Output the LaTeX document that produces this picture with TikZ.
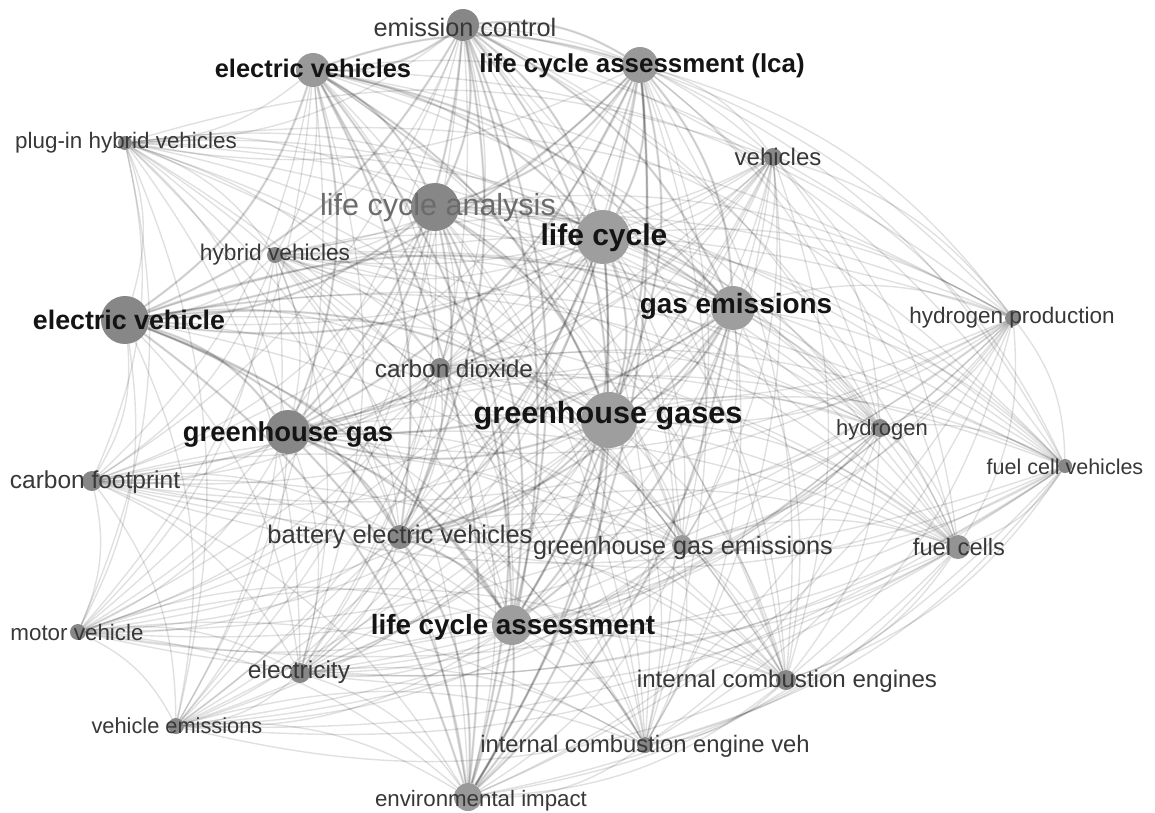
\documentclass[tikz,border=0pt]{standalone}
\usepackage{fontspec}
\setmainfont{Liberation Sans}
\usetikzlibrary{backgrounds}
\tikzset{
  bub/.style={circle, inner sep=0pt, minimum size=#1, fill=black!47, draw=none},
  lab/.style={inner sep=0pt, text=black!78, font=\fontsize{#1}{#1}\selectfont},
  blab/.style={inner sep=0pt, text=black!92, font=\fontsize{#1}{#1}\selectfont\bfseries},
  glab/.style={inner sep=0pt, text=black!58, font=\fontsize{#1}{#1}\selectfont},
  edge/.style={draw=black, opacity=0.12, line width=1.4pt},
  bigedge/.style={draw=black, opacity=0.09, line width=2.6pt}
}
\begin{document}
\begin{tikzpicture}[x=1pt,y=-1pt]
\useasboundingbox (0,0) rectangle (1155,812);
% circles
\node[bub=32pt] (ec)   at (463,25)  {};
\node[bub=34pt, fill=black!40] (evs)  at (313,70)  {};
\node[bub=36pt, fill=black!40] (lca)  at (640,65)  {};
\node[bub=14pt] (phv)  at (125,143) {};
\node[bub=18pt] (veh)  at (773,157) {};
\node[bub=48pt] (lcan) at (435,207) {};
\node[bub=54pt, fill=black!38] (lc)   at (603,237) {};
\node[bub=16pt] (hv)   at (275,255) {};
\node[bub=48pt] (ev)   at (125,320) {};
\node[bub=44pt, fill=black!38] (ge)   at (733,308) {};
\node[bub=16pt] (hp)   at (1013,318) {};
\node[bub=20pt] (cd)   at (440,368) {};
\node[bub=56pt, fill=black!38] (ggs)  at (609,420) {};
\node[bub=44pt] (gg)   at (288,432) {};
\node[bub=18pt] (h)    at (880,428) {};
\node[bub=14pt] (fcv)  at (1065,466) {};
\node[bub=20pt] (cf)   at (92,481)  {};
\node[bub=24pt] (bev)  at (400,537) {};
\node[bub=20pt, fill=black!40] (gge)  at (682,545) {};
\node[bub=24pt, fill=black!42] (fc)   at (958,547) {};
\node[bub=16pt] (mv)   at (78,632)  {};
\node[bub=40pt, fill=black!38] (lcas) at (512,625) {};
\node[bub=20pt] (el)   at (300,673) {};
\node[bub=20pt] (ice)  at (786,680) {};
\node[bub=16pt] (ve)   at (176,726) {};
\node[bub=16pt] (icev) at (645,745) {};
\node[bub=28pt, fill=black!40] (ei)   at (468,797) {};
% edges
\begin{scope}[on background layer]
\fill[white] (0,0) rectangle (1155,812);
\foreach \a [count=\i] in {ec,evs,lca,phv,veh,lcan,lc,hv,ev,ge,hp,cd,ggs,gg,h,fcv,cf,bev,gge,fc,mv,lcas,el,ice,ve,icev,ei}{
  \foreach \b [count=\j] in {ec,evs,lca,phv,veh,lcan,lc,hv,ev,ge,hp,cd,ggs,gg,h,fcv,cf,bev,gge,fc,mv,lcas,el,ice,ve,icev,ei}{
    \ifnum\i<\j
      \draw[edge] (\a) to[bend left=18] (\b);
    \fi
  }
}
\foreach \a [count=\i] in {ec,evs,lca,lcan,lc,ev,ge,ggs,gg,bev,lcas,ei}{
  \foreach \b [count=\j] in {ec,evs,lca,lcan,lc,ev,ge,ggs,gg,bev,lcas,ei}{
    \ifnum\i<\j
      \draw[bigedge] (\a) to[bend left=18] (\b);
    \fi
  }
}
\end{scope}
% labels
\node[lab=25.3]  (l-ec)   at (465,27)  {emission control};
\node[blab=25.4] (l-evs)  at (313,68)  {electric vehicles};
\node[blab=25.9] (l-lca)  at (642,66)  {life cycle assessment (lca)};
\node[lab=22.4]  (l-phv)  at (126,143) {plug-in hybrid vehicles};
\node[lab=24]    (l-veh)  at (778,157) {vehicles};
\node[glab=30.5] (l-lcan) at (438,208) {life cycle analysis};
\node[blab=30]   (l-lc)   at (604,238) {life cycle};
\node[lab=22.7]  (l-hv)   at (275,255) {hybrid vehicles};
\node[blab=26.8] (l-ev)   at (129,320) {electric vehicle};
\node[blab=27.9] (l-ge)   at (736,306) {gas emissions};
\node[lab=22.5]  (l-hp)   at (1012,318) {hydrogen production};
\node[lab=24.3]  (l-cd)   at (454,369) {carbon dioxide};
\node[blab=30.6] (l-ggs)  at (608,416) {greenhouse gases};
\node[blab=27.4] (l-gg)   at (288,434) {greenhouse gas};
\node[lab=22]    (l-h)    at (882,430) {hydrogen};
\node[lab=21.5]  (l-fcv)  at (1065,467) {fuel cell vehicles};
\node[lab=24.5]  (l-cf)   at (95,482)  {carbon footprint};
\node[lab=25.5]  (l-bev)  at (400,537) {battery electric vehicles};
\node[lab=25.2]  (l-gge)  at (683,548) {greenhouse gas emissions};
\node[lab=23.7]  (l-fc)   at (959,547) {fuel cells};
\node[lab=22.4]  (l-mv)   at (77,632)  {motor vehicle};
\node[blab=27.8] (l-lcas) at (513,627) {life cycle assessment};
\node[lab=24.5]  (l-el)   at (299,672) {electricity};
\node[lab=24.1]  (l-ice)  at (787,681) {internal combustion engines};
\node[lab=21.8]  (l-ve)   at (177,726) {vehicle emissions};
\node[lab=23.8]  (l-icev) at (645,746) {internal combustion engine veh};
\node[lab=22.3]  (l-ei)   at (481,801) {environmental impact};
\end{tikzpicture}
\end{document}
